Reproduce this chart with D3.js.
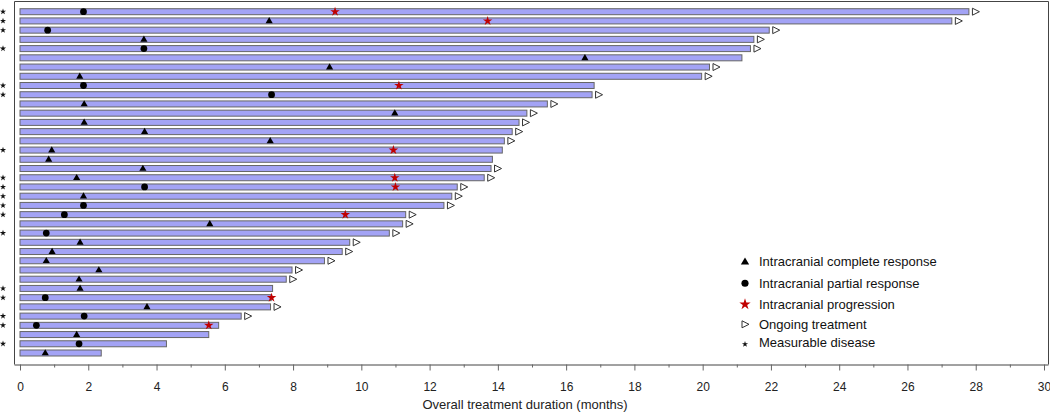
<!DOCTYPE html>
<html>
<head>
<meta charset="utf-8">
<script src="https://cdn.jsdelivr.net/npm/d3@7"></script>
<style>
  html, body { margin: 0; padding: 0; background: #fff; }
  svg { display: block; font-family: "Liberation Sans", Arial, sans-serif; }
</style>
</head>
<body>
<svg id="chart" width="1050" height="415"></svg>
<script>
// ---- data (one entry per patient, top to bottom) ----
const durations = [27.8, 27.3, 21.95, 21.5, 21.4, 21.15, 20.2, 19.97, 16.82, 16.76,
  15.45, 14.85, 14.62, 14.42, 14.19, 14.13, 13.84, 13.8, 13.6, 12.81,
  12.65, 12.42, 11.3, 11.21, 10.82, 9.66, 9.44, 8.92, 7.97, 7.8,
  7.4, 7.36, 7.34, 6.48, 5.82, 5.53, 4.29, 2.38];
const ongoing = [1,1,1,1,1,0,1,1,0,1, 1,1,1,1,1,0,0,1,1,1, 1,1,1,1,1,1,1,1,1,1, 0,0,1,1,0,0,0,0];
const measurableRows = [1,2,3,5,9,10,16,19,20,21,22,23,25,31,32,34,35,37];
// [row (1-based), month]
const completeResponse = [[2,7.3],[4,3.63],[6,16.55],[7,9.07],[8,1.75],[11,1.88],[12,10.98],[13,1.88],
  [14,3.65],[15,7.33],[16,0.93],[17,0.84],[18,3.6],[19,1.66],[21,1.86],[24,5.56],[26,1.76],
  [27,0.94],[28,0.77],[29,2.31],[30,1.73],[31,1.76],[33,3.72],[36,1.66],[38,0.74]];
const partialResponse = [[1,1.86],[3,0.81],[5,3.63],[9,1.86],[10,7.37],[20,3.65],[22,1.86],[23,1.3],
  [25,0.77],[32,0.74],[34,1.88],[35,0.48],[37,1.73]];
const progression = [[1,9.23],[2,13.7],[9,11.1],[16,10.94],[19,10.98],[20,11.0],[23,9.53],[32,7.37],[35,5.53]];
const xTicks = d3.range(0, 31, 2);
const xMinorTicks = d3.range(1, 30, 2);
const legendLabels = ["Intracranial complete response", "Intracranial partial response",
  "Intracranial progression", "Ongoing treatment", "Measurable disease"];
const xTitle = "Overall treatment duration (months)";

// ---- layout ----
const svg = d3.select("#chart");
const x = d3.scaleLinear().domain([0, 30]).range([20, 1044]);
const y = d3.scalePoint().domain(d3.range(1, durations.length + 1)).range([11.7, 353]);
const barH = 6;

// frame
svg.append("path")
  .attr("d", "M14.5,364.5 V1.5 H1048.5 V364.5")
  .attr("fill", "none").attr("stroke", "#444").attr("stroke-width", 1);

// axes
const axisG = svg.append("g").attr("transform", "translate(0,364.5)");
axisG.call(d3.axisBottom(x).tickValues(xTicks).tickSize(6).tickPadding(12).tickFormat(d3.format("d")));
axisG.select(".domain").attr("d", "M14.5,0.5H1048.5").attr("stroke", "#444");
axisG.selectAll(".tick line").attr("stroke", "#666");
axisG.selectAll(".tick text").attr("font-size", 12).attr("fill", "#222")
  .attr("font-family", "'Liberation Sans', Arial, sans-serif");
const minorG = svg.append("g").attr("transform", "translate(0,364.5)");
minorG.call(d3.axisBottom(x).tickValues(xMinorTicks).tickSize(3).tickFormat(""));
minorG.select(".domain").remove();
minorG.selectAll(".tick line").attr("stroke", "#666");

svg.append("text").attr("x", 525).attr("y", 409).attr("text-anchor", "middle")
  .attr("font-size", 13).attr("fill", "#222").text(xTitle);

// bars
const rows = durations.map((d, i) => ({ row: i + 1, dur: d, ongoing: ongoing[i] }));
svg.append("g").selectAll("rect").data(rows).join("rect")
  .attr("x", x(0))
  .attr("y", d => y(d.row) - barH / 2)
  .attr("width", d => x(d.dur) - x(0))
  .attr("height", barH)
  .attr("fill", "#a3a3f5")
  .attr("stroke", "#666")
  .attr("stroke-width", 1);

// ongoing arrows
const ongoingPath = (cx, cy) => `M${cx - 3},${cy - 3.5}L${cx + 4},${cy}L${cx - 3},${cy + 3.5}Z`;
svg.append("g").selectAll("path").data(rows.filter(d => d.ongoing)).join("path")
  .attr("d", d => ongoingPath(x(d.dur) + 6.5, y(d.row)))
  .attr("fill", "#fff").attr("stroke", "#333").attr("stroke-width", 1);

// markers
const tri = d3.symbol().type(d3.symbolTriangle).size(22);
const circ = d3.symbol().type(d3.symbolCircle).size(36);
const star = d3.symbol().type(d3.symbolStar).size(28);
const small = d3.symbol().type(d3.symbolStar).size(12);

svg.append("g").selectAll("path").data(completeResponse).join("path")
  .attr("d", tri).attr("transform", d => `translate(${x(d[1])},${y(d[0]) + 0.3})`).attr("fill", "#000");
svg.append("g").selectAll("path").data(partialResponse).join("path")
  .attr("d", circ).attr("transform", d => `translate(${x(d[1])},${y(d[0])})`).attr("fill", "#000");
svg.append("g").selectAll("path").data(progression).join("path")
  .attr("d", star).attr("transform", d => `translate(${x(d[1])},${y(d[0])})`).attr("fill", "#c00000");
svg.append("g").selectAll("path").data(measurableRows).join("path")
  .attr("d", small).attr("transform", d => `translate(3,${y(d)})`).attr("fill", "#111");

// legend
const legendY = [261.7, 283.3, 304.3, 324.3, 342.7];
const lg = svg.append("g");
const sx = 745;
lg.append("path").attr("d", d3.symbol().type(d3.symbolTriangle).size(30)).attr("transform", `translate(${sx},${legendY[0] + 0.5})`).attr("fill", "#000");
lg.append("path").attr("d", d3.symbol().type(d3.symbolCircle).size(40)).attr("transform", `translate(${sx},${legendY[1]})`).attr("fill", "#000");
lg.append("path").attr("d", d3.symbol().type(d3.symbolStar).size(40)).attr("transform", `translate(${sx},${legendY[2]})`).attr("fill", "#c00000");
lg.append("path").attr("d", ongoingPath(sx, legendY[3])).attr("fill", "#fff").attr("stroke", "#333");
lg.append("path").attr("d", small).attr("transform", `translate(${sx},${legendY[4] + 1.5})`).attr("fill", "#111");
lg.selectAll("text").data(legendLabels).join("text")
  .attr("x", 759).attr("y", (d, i) => legendY[i]).attr("dy", "0.35em")
  .attr("font-size", 13).attr("fill", "#111").text(d => d);
</script>
</body>
</html>
